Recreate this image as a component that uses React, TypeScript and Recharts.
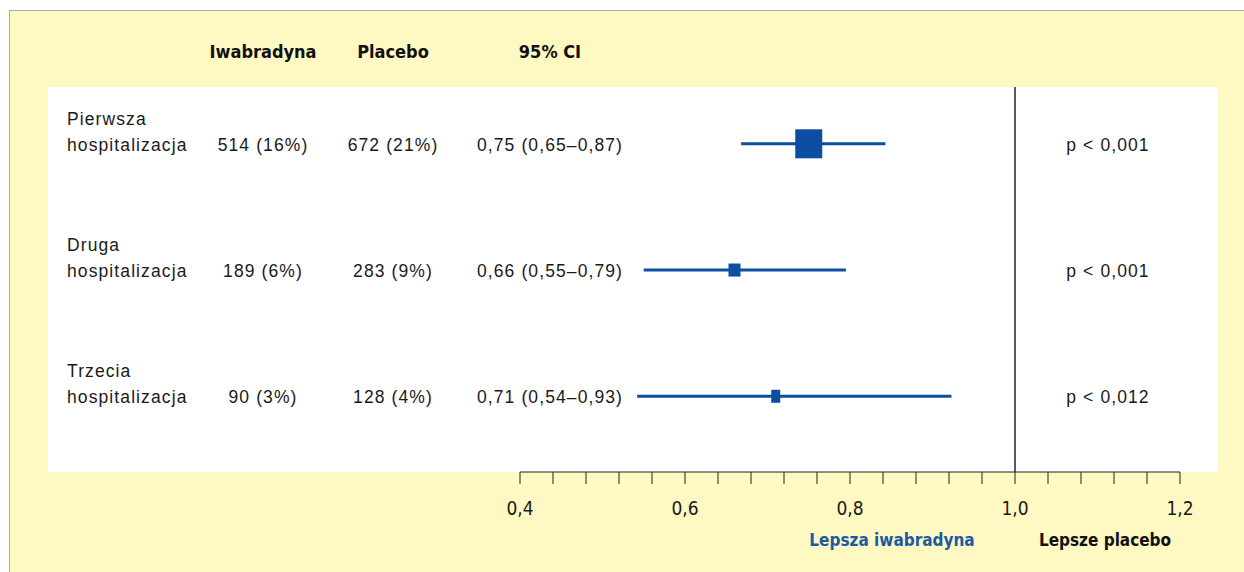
import { ScatterChart, Scatter, XAxis, YAxis, ErrorBar, ReferenceLine } from 'recharts';

const rowTitles = ['Pierwsza', 'Druga', 'Trzecia'];
const rowSubtitles = ['hospitalizacja', 'hospitalizacja', 'hospitalizacja'];
const rowPositions = [1, 2, 3];
const ivabradineEvents = ['514 (16%)', '189 (6%)', '90 (3%)'];
const placeboEvents = ['672 (21%)', '283 (9%)', '128 (4%)'];
const ciLabels = ['0,75 (0,65–0,87)', '0,66 (0,55–0,79)', '0,71 (0,54–0,93)'];
const hazardRatios = [0.75, 0.66, 0.71];
// whisker ends as drawn in the picture
const ciLow = [0.668, 0.55, 0.542];
const ciHigh = [0.843, 0.795, 0.923];
const pValues = ['p < 0,001', 'p < 0,001', 'p < 0,012'];
const markerWeights = [3, 1.3, 1];

const xTicks = [
  0.4, 0.44, 0.48, 0.52, 0.56, 0.6, 0.64, 0.68, 0.72, 0.76, 0.8, 0.84, 0.88, 0.92, 0.96, 1.0, 1.04, 1.08,
  1.12, 1.16, 1.2,
];
const xTickLabels: Record<string, string> = { '0.4': '0,4', '0.6': '0,6', '0.8': '0,8', '1': '1,0', '1.2': '1,2' };

const headers = [
  { text: 'Iwabradyna', x: 263 },
  { text: 'Placebo', x: 393 },
  { text: '95% CI', x: 550 },
];

const BLUE = '#0b4ea2';
const TEXT = '#1a1a1a';
const BODY_FONT = '"Liberation Sans", Arial, sans-serif';
const COND_FONT = '"DejaVu Sans Condensed", "DejaVu Sans", sans-serif';

const data = rowPositions.map((row, i) => ({
  row,
  hr: hazardRatios[i],
  err: [hazardRatios[i] - ciLow[i], ciHigh[i] - hazardRatios[i]],
  title: rowTitles[i],
  subtitle: rowSubtitles[i],
  iva: ivabradineEvents[i],
  pla: placeboEvents[i],
  ci: ciLabels[i],
  p: pValues[i],
  weight: markerWeights[i],
}));

const textStyle = { fontFamily: BODY_FONT, fontSize: 17.5, letterSpacing: 1.1, fill: TEXT };

const RowShape = (props: any) => {
  const { cx, cy, payload } = props;
  const w = payload.weight === 3 ? 27 : payload.weight > 1 ? 12 : 9;
  const h = payload.weight === 3 ? 29 : 13;
  return (
    <g>
      <rect x={cx - w / 2} y={cy - h / 2} width={w} height={h} fill={BLUE} />
      <text x={67} y={cy - 25} dominantBaseline="central" style={textStyle}>
        {payload.title}
      </text>
      <text x={67} y={cy + 1} dominantBaseline="central" style={textStyle}>
        {payload.subtitle}
      </text>
      <text x={263} y={cy + 1} dominantBaseline="central" textAnchor="middle" style={textStyle}>
        {payload.iva}
      </text>
      <text x={393} y={cy + 1} dominantBaseline="central" textAnchor="middle" style={textStyle}>
        {payload.pla}
      </text>
      <text x={550} y={cy + 1} dominantBaseline="central" textAnchor="middle" style={textStyle}>
        {payload.ci}
      </text>
      <text x={1108} y={cy + 1} dominantBaseline="central" textAnchor="middle" style={textStyle}>
        {payload.p}
      </text>
    </g>
  );
};

export default function App() {
  return (
    <div style={{ position: 'relative', width: 1244, height: 572, overflow: 'hidden' }}>
      <style>{`body{margin:0;overflow:hidden}`}</style>
      <div
        style={{
          position: 'absolute',
          left: 9,
          top: 10,
          width: 1240,
          height: 570,
          background: '#fef8c3',
          borderLeft: '1px solid #a8a8a8',
          borderTop: '1px solid #a8a8a8',
        }}
      />
      <div style={{ position: 'absolute', left: 48, top: 87, width: 1170, height: 385, background: '#ffffff' }} />
      {headers.map((h) => (
        <div
          key={h.text}
          style={{
            position: 'absolute',
            left: h.x - 80,
            width: 160,
            top: 41,
            textAlign: 'center',
            fontFamily: COND_FONT,
            fontWeight: 'bold',
            fontSize: 18,
            color: '#111',
          }}
        >
          {h.text}
        </div>
      ))}
      <div
        style={{
          position: 'absolute',
          left: 792,
          width: 200,
          top: 530,
          textAlign: 'center',
          fontFamily: COND_FONT,
          fontWeight: 'bold',
          fontSize: 17,
          color: '#1b5aa6',
        }}
      >
        Lepsza iwabradyna
      </div>
      <div
        style={{
          position: 'absolute',
          left: 1005,
          width: 200,
          top: 530,
          textAlign: 'center',
          fontFamily: COND_FONT,
          fontWeight: 'bold',
          fontSize: 17,
          color: '#111',
        }}
      >
        Lepsze placebo
      </div>
      <div style={{ position: 'absolute', left: 0, top: 0 }}>
        <ScatterChart width={1244} height={572} margin={{ top: 87, right: 64, bottom: 0, left: 520 }}>
          <XAxis
            type="number"
            dataKey="hr"
            domain={[0.4, 1.2]}
            ticks={xTicks}
            interval={0}
            height={100}
            tickSize={12}
            tickMargin={18}
            stroke="#222"
            tickLine={{ stroke: '#222' }}
            axisLine={{ stroke: '#222', strokeWidth: 1.2 }}
            tick={{ fontFamily: COND_FONT, fontSize: 19, fill: TEXT }}
            tickFormatter={(v: number) => xTickLabels[String(Math.round(v * 100) / 100)] || ''}
          />
          <YAxis type="number" dataKey="row" domain={[0.55, 3.6]} reversed hide width={0} />
          <ReferenceLine x={1} stroke="#333" strokeWidth={1.6} />
          <Scatter data={data} shape={<RowShape />} isAnimationActive={false}>
            <ErrorBar dataKey="err" direction="x" width={0} stroke={BLUE} strokeWidth={3} isAnimationActive={false} />
          </Scatter>
        </ScatterChart>
      </div>
    </div>
  );
}
